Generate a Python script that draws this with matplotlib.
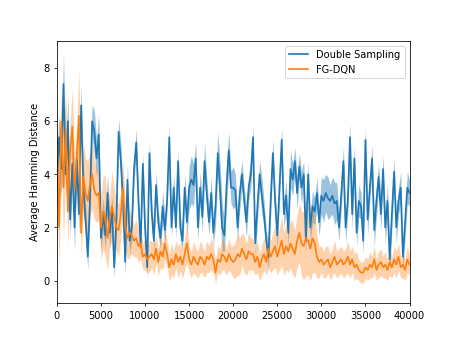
import numpy as np
import matplotlib
matplotlib.use("Agg")
import matplotlib.pyplot as plt

# training steps, one sample every 250 steps
steps = np.arange(0, 40001, 250)

# Double Sampling: mean hamming distance and band half width
ds_mean = [3.6, 5.4, 4.2, 7.4, 4.0, 6.0, 2.3, 4.4, 2.0, 4.6,
           2.5, 6.6, 3.5, 2.3, 0.9, 3.0, 6.0, 5.6, 4.6, 5.5,
           1.6, 2.5, 1.7, 3.3, 1.8, 2.7, 0.5, 2.3, 5.6, 4.5,
           3.0, 0.7, 3.8, 1.5, 2.0, 4.2, 5.2, 3.0, 1.3, 4.4,
           2.0, 0.5, 4.8, 2.6, 1.5, 3.6, 2.2, 1.6, 2.8, 1.9,
           3.0, 5.4, 2.0, 3.5, 2.0, 4.5, 2.0, 1.5, 3.5, 2.2,
           3.5, 3.8, 3.6, 4.6, 2.0, 3.5, 2.4, 4.5, 3.3, 2.2,
           3.3, 1.8, 2.8, 4.8, 3.5, 2.0, 1.7, 3.6, 4.9, 3.5,
           3.5, 3.4, 2.0, 3.3, 4.0, 3.0, 2.2, 3.5, 4.0, 5.4,
           1.4, 2.8, 4.0, 3.2, 2.5, 1.5, 0.9, 3.0, 4.8, 3.0,
           1.7, 3.5, 5.3, 2.5, 3.2, 1.8, 4.2, 3.8, 4.5, 3.3,
           4.3, 3.5, 4.0, 1.5, 4.0, 2.0, 2.8, 2.6, 3.3, 2.2,
           3.2, 3.0, 3.3, 3.1, 3.0, 3.2, 2.9, 3.0, 2.0, 3.2,
           4.5, 2.0, 3.0, 5.4, 2.5, 4.6, 1.8, 3.0, 2.8, 1.5,
           5.3, 2.3, 3.5, 4.6, 1.9, 3.0, 3.9, 2.5, 4.2, 2.0,
           3.0, 0.8, 2.5, 4.1, 2.0, 3.0, 3.5, 0.9, 2.2, 3.5, 3.3]
ds_band = [1.0, 0.8, 1.2, 1.1, 0.9, 1.0, 0.7, 0.8, 0.9, 0.8,
           0.7, 0.8, 0.9, 0.6, 0.5, 0.7, 0.6, 0.8, 0.7, 0.8,
           0.5, 0.6, 0.5, 0.7, 0.6, 0.5, 0.4, 0.6, 0.5, 0.7,
           0.6, 0.5, 0.6, 0.5, 0.5, 0.4, 0.5, 0.5, 0.4, 0.4,
           0.5, 0.4, 0.5, 0.5, 0.4, 0.5, 0.5, 0.4, 0.6, 0.5,
           0.4, 0.5, 0.4, 0.5, 0.4, 0.4, 0.5, 0.4, 0.5, 0.5,
           0.8, 0.9, 0.8, 0.6, 0.5, 0.6, 0.6, 0.7, 0.6, 0.5,
           0.6, 0.5, 0.7, 0.8, 1.0, 0.9, 0.6, 0.8, 0.7, 0.6,
           0.8, 0.6, 0.5, 0.6, 0.5, 0.5, 0.6, 0.5, 0.5, 0.4,
           0.5, 0.6, 0.5, 0.7, 0.5, 0.4, 0.5, 0.6, 0.5, 0.5,
           0.5, 0.6, 0.5, 0.5, 0.6, 0.5, 0.7, 0.6, 0.5, 0.6,
           0.5, 0.6, 0.5, 0.4, 0.5, 0.5, 0.6, 0.5, 0.6, 0.5,
           0.7, 0.8, 0.7, 0.8, 0.6, 0.7, 0.8, 0.7, 0.5, 0.6,
           0.5, 0.6, 0.5, 0.5, 0.6, 0.5, 0.5, 0.6, 0.5, 0.5,
           0.5, 0.6, 0.5, 0.5, 0.6, 0.6, 0.5, 0.6, 0.5, 0.6,
           0.6, 0.5, 0.6, 0.5, 0.6, 0.5, 0.6, 0.5, 0.6, 0.6, 0.5]

# FG-DQN
fg_mean = [5.3, 2.0, 6.0, 3.5, 5.7, 2.6, 4.8, 5.8, 3.4, 4.6,
           6.2, 1.8, 3.9, 3.3, 3.0, 3.6, 4.0, 3.4, 3.2, 3.3,
           2.0, 2.6, 2.4, 1.6, 2.3, 2.8, 2.4, 2.0, 1.9, 2.5,
           3.5, 2.1, 1.6, 1.8, 1.7, 1.5, 1.6, 1.3, 1.4, 0.9,
           1.0, 0.8, 0.9, 1.0, 0.8, 1.2, 0.7, 1.1, 0.9, 1.4,
           1.0, 0.5, 0.8, 0.6, 1.0, 0.7, 0.9, 0.6, 1.0, 1.4,
           0.8, 0.6, 0.9, 0.7, 0.6, 0.9, 0.8, 0.6, 0.9, 0.8,
           1.0, 0.8, 0.3, 0.8, 0.7, 1.0, 0.9, 0.7, 1.0, 0.8,
           0.7, 0.8, 1.0, 0.9, 1.2, 1.0, 0.8, 1.1, 1.0, 1.0,
           0.7, 0.9, 0.5, 0.8, 1.0, 0.7, 1.2, 0.9, 1.1, 1.3,
           0.9, 1.2, 1.5, 1.0, 1.3, 1.1, 1.4, 1.2, 1.0, 1.5,
           1.8, 1.4, 1.3, 1.6, 1.5, 1.2, 1.6, 1.4, 0.9, 0.7,
           0.8, 0.6, 0.7, 0.8, 0.5, 0.7, 0.9, 0.6, 0.7, 0.8,
           0.6, 0.7, 0.9, 0.6, 0.8, 0.5, 0.6, 0.4, 0.3, 0.3,
           0.5, 0.4, 0.6, 0.5, 0.8, 0.4, 0.6, 0.7, 0.5, 0.6,
           0.4, 0.7, 0.5, 0.8, 0.6, 0.9, 0.5, 0.6, 0.4, 0.8, 0.6]
fg_band = [1.8, 1.5, 1.2, 2.0, 1.5, 1.3, 1.2, 1.4, 1.2, 1.3,
           1.8, 1.0, 1.2, 1.3, 1.5, 1.2, 1.3, 1.1, 1.0, 1.0,
           1.2, 1.4, 1.5, 1.2, 1.0, 1.3, 1.1, 0.9, 1.0, 0.9,
           1.0, 0.9, 0.8, 0.9, 0.7, 0.6, 0.7, 0.6, 0.6, 0.5,
           0.6, 0.5, 0.6, 0.5, 0.6, 0.5, 0.5, 0.6, 0.5, 0.6,
           0.5, 0.5, 0.6, 0.5, 0.5, 0.6, 0.5, 0.5, 0.6, 0.7,
           0.5, 0.5, 0.6, 0.5, 0.5, 0.6, 0.5, 0.5, 0.6, 0.5,
           0.6, 0.5, 0.4, 0.5, 0.5, 0.6, 0.5, 0.5, 0.6, 0.5,
           0.6, 0.7, 0.8, 0.7, 0.6, 0.7, 0.6, 0.7, 0.6, 0.6,
           0.5, 0.6, 0.5, 0.6, 0.6, 0.5, 0.7, 0.6, 0.7, 0.8,
           0.7, 0.8, 0.9, 0.8, 0.9, 0.8, 0.9, 1.0, 0.9, 1.0,
           1.1, 1.2, 1.3, 1.4, 1.3, 1.2, 1.3, 1.1, 0.8, 0.6,
           0.5, 0.5, 0.6, 0.5, 0.5, 0.5, 0.6, 0.5, 0.5, 0.5,
           0.5, 0.5, 0.6, 0.5, 0.5, 0.5, 0.5, 0.4, 0.4, 0.4,
           0.4, 0.4, 0.5, 0.4, 0.5, 0.4, 0.5, 0.5, 0.4, 0.5,
           0.4, 0.5, 0.4, 0.5, 0.5, 0.5, 0.4, 0.5, 0.4, 0.5, 0.4]

series = [("Double Sampling", ds_mean, ds_band, "tab:blue", 0.45),
          ("FG-DQN", fg_mean, fg_band, "tab:orange", 0.35)]

fig, ax = plt.subplots(figsize=(6.4, 4.8), dpi=455 / 6.4)

for label, mean, band, colour, alpha in series:
    mean = np.array(mean)
    band = np.array(band)
    ax.plot(steps, mean, color=colour, label=label, linewidth=1.7)
    ax.fill_between(steps, mean - band, mean + band, color=colour, alpha=alpha, linewidth=0)

ax.set_xlim(0, 40000)
ax.set_ylim(-0.86, 9.03)
ax.set_xticks(np.arange(0, 40001, 5000))
ax.set_yticks([0, 2, 4, 6, 8])
ax.set_ylabel("Average Hamming Distance")
ax.legend(loc="upper right")

fig.savefig("out.png")
